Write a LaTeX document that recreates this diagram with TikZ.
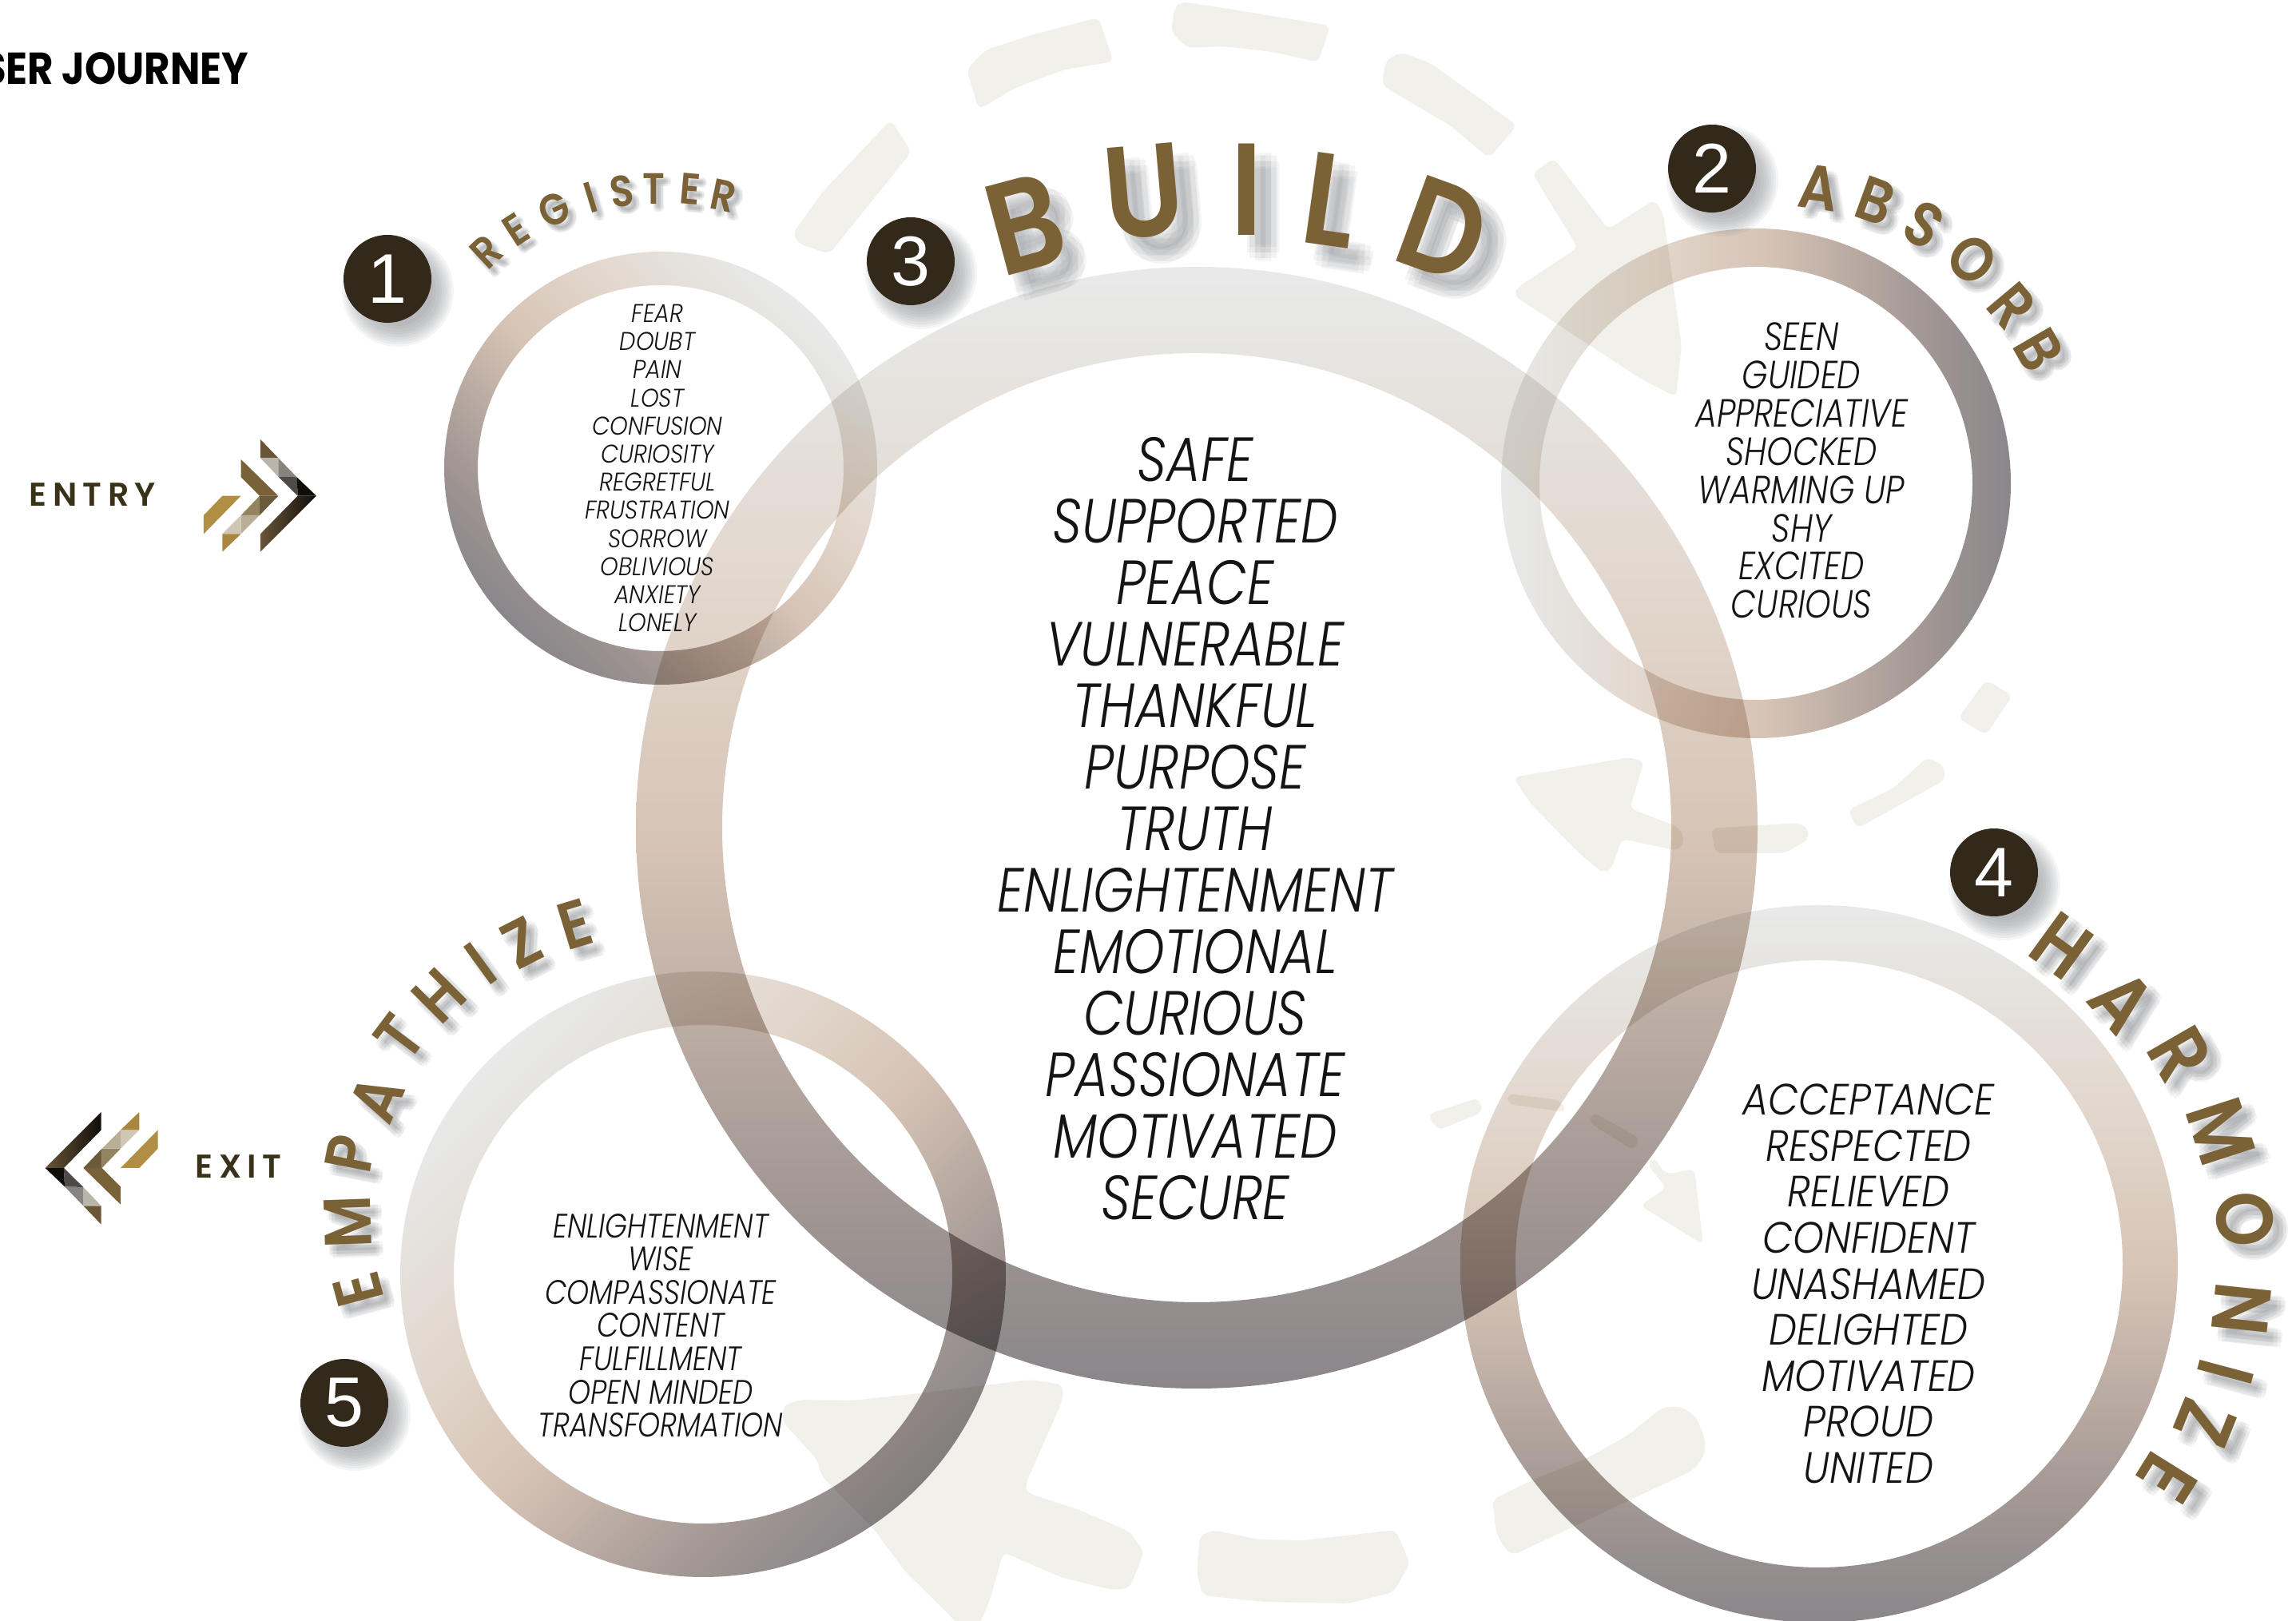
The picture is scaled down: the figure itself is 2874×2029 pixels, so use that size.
\documentclass[tikz,border=0pt]{standalone}
\usepackage{fontspec}
\usetikzlibrary{calc}
\setmainfont{Poppins}
\newfontfamily\headfont{Poppins}[UprightFont=* SemiBold,FakeStretch=0.88]
\newfontfamily\bodyfont{Poppins}[UprightFont=* Light Italic,FakeStretch=0.9]
\newfontfamily\bodyfontN{Poppins}[UprightFont=* Light Italic,FakeStretch=0.84]
\newfontfamily\titlefont{Poppins}[UprightFont=* Bold,FakeStretch=0.89]
\newfontfamily\labelfont{Poppins}[UprightFont=* SemiBold]
\newfontfamily\numfont{Liberation Sans}
\newcommand{\fs}[2]{\fontsize{#1pt}{#2pt}\selectfont}
\definecolor{bgshape}{HTML}{F2F0EA}
\definecolor{brownletter}{HTML}{7A6236}
\definecolor{badge}{HTML}{33291A}
\definecolor{labeldark}{HTML}{3A3218}
\definecolor{shadowgrey}{HTML}{70747A}
\definecolor{ringA}{HTML}{8A868A}
\definecolor{ringB}{HTML}{A39894}
\definecolor{ringC}{HTML}{D6C3B5}
\definecolor{ringD}{HTML}{E2D6CC}
\definecolor{ringE}{HTML}{E8EAE9}
\definecolor{c1}{HTML}{6A5537}\definecolor{c2}{HTML}{BBB4AA}\definecolor{c3}{HTML}{87847F}
\definecolor{c4}{HTML}{4D4B47}\definecolor{c5}{HTML}{100E0B}\definecolor{c6}{HTML}{6B5A3C}
\definecolor{c7}{HTML}{94835F}\definecolor{c8}{HTML}{CFC6B4}\definecolor{c9}{HTML}{B9AE98}
\definecolor{c10}{HTML}{A9873E}\definecolor{c11}{HTML}{B08F45}\definecolor{c12}{HTML}{7A6238}
\pgfdeclareverticalshading{ringgrad}{100bp}{
 color(0bp)=(ringA); color(25bp)=(ringA); color(34bp)=(ringB); color(49bp)=(ringC);
 color(60bp)=(ringD); color(75bp)=(ringE); color(100bp)=(ringE)}
\newcounter{lt}
\newcommand{\ltr}[5]{%
 \stepcounter{lt}%
 \foreach \dx/\dy [count=\i] in {0/0,1/0,-1/0,0/1,0/-1,.7/.7,-.7/.7,.7/-.7,-.7/-.7}{%
  \node[lettershadow,rotate=#3,font=\headfont\fs{#4}{#4}] (ls\thelt x\i)
   at ({#1+0.5*#4+\dx*#4*0.24},{#2+0.55*#4+\dy*#4*0.24}) {#5};}%
 \node[letter,rotate=#3,font=\headfont\fs{#4}{#4}] (lt\thelt) at (#1,#2) {#5};%
}
\newcommand{\badgenum}[3]{% name, position, digit
 \coordinate (#1c) at #2;
 \foreach \rr [count=\i] in {70,67,64,61,58,55,52,48,44}{%
  \fill[shadowgrey,opacity=.075] ($(#1c)+(13,15)$) circle [radius=\rr];}
 \node[badgeball] (#1) at (#1c) {#3};
}
\newcommand{\ring}[6]{% name, x, y, R, r, angle
 \coordinate (#1) at (#2,#3);
 \shade[shading=ringgrad,shading angle=#6,even odd rule,blend mode=multiply]
   (#1) circle [radius=#4] (#1) circle [radius=#5];
}
\newcommand{\chevrons}{%
 \fill[c1] (978,150)--(1045,220)--(978,220)--cycle;
 \fill[c2] (978,220)--(1045,220)--(1045,290)--cycle;
 \fill[c3] (1045,220)--(1115,292)--(1045,290)--cycle;
 \fill[c4] (1045,290)--(1115,292)--(1118,362)--cycle;
 \fill[c5] (1115,292)--(1188,362)--(1118,362)--cycle;
 \shade[left color=c1,right color=c5] (1118,362)--(1188,362)--(978,572)--(978,505)--cycle;
 \fill[c12] (905,225)--(1045,362)--(975,362)--(905,292)--cycle;
 \fill[c6] (975,362)--(1045,362)--(975,435)--cycle;
 \fill[c7] (975,362)--(975,435)--(905,435)--cycle;
 \fill[c9] (905,435)--(975,435)--(905,505)--cycle;
 \fill[c8] (905,435)--(905,505)--(835,505)--cycle;
 \fill[c10] (835,505)--(905,505)--(835,572)--cycle;
 \fill[c11] (835,362)--(905,362)--(765,505)--(765,435)--cycle;
}
\tikzset{
 bgpoly/.style={fill=bgshape,rounded corners=2pt},
 letter/.style={text=brownletter,inner sep=0pt},
 lettershadow/.style={text=shadowgrey,text opacity=.08,inner sep=0pt},
 badgeball/.style={circle,fill=badge,text=white,minimum size=110*.25pt,inner sep=0pt,
   font=\numfont\fs{22}{22}},
 bodytext/.style={align=center,text=black!92,inner sep=0pt},
 sidelabel/.style={text=labeldark,inner sep=0pt,font={\labelfont\addfontfeature{LetterSpace=18}\fs{10.3}{11}}}
}
\begin{document}
\begin{tikzpicture}[x=.25pt,y=-.25pt]
\useasboundingbox (0,0) rectangle (2874,2029);
\clip (0,0) rectangle (2874,2029);
% faint dashed arrow loop
\fill[bgpoly] (1115,150)--(1141,190)--(1038,318)--(1000,305)--(992,293)--(1030,240)--cycle;
\fill[bgpoly] (1375,22)--(1394,77)--(1333,87)--(1271,110)--(1225,137)--(1210,87)--(1233,63)--(1294,43)--cycle;
\fill[bgpoly] (1478,2)--(1531,10)--(1665,32)--(1650,78)--(1593,65)--(1531,58)--(1486,60)--(1466,40)--(1470,10)--cycle;
\fill[bgpoly] (1753,65)--(1792,80)--(1899,157)--(1864,198)--(1815,157)--(1730,107)--(1734,77)--cycle;
\fill[bgpoly] (1918,217)--(1945,198)--(2013,287)--(2071,250)--(2082,267)--(2105,433)--(2098,497)--(2052,473)--(1895,370)--(1899,360)--(1975,310)--cycle;
\fill[bgpoly] (2486,851)--(2519,871)--(2486,920)--(2451,899)--cycle;
\fill[bgpoly] (2412,948)--(2433,958)--(2435,976)--(2325,1037)--(2313,1014)--(2371,986)--cycle;
\fill[bgpoly] (2142,1037)--(2249,1030)--(2262,1035)--(2265,1050)--(2234,1068)--(2147,1068)--cycle;
\fill[bgpoly] (1894,973)--(2040,948)--(2058,953)--(2040,1012)--(2101,1035)--(2109,1050)--(2101,1065)--(2030,1050)--(2017,1088)--(2007,1093)--(1979,1070)--(1917,1007)--cycle;
\fill[bgpoly] (1787,1395)--(1851,1374)--(1856,1392)--(1800,1415)--cycle;
\fill[bgpoly] (1887,1369)--(1953,1377)--(1961,1392)--(1887,1382)--cycle;
\fill[bgpoly] (1994,1392)--(2053,1425)--(2045,1440)--(1989,1405)--cycle;
\fill[bgpoly] (2070,1448)--(2085,1470)--(2121,1463)--(2132,1558)--(2053,1509)--(2086,1487)--(2062,1458)--cycle;
\fill[bgpoly] (1519,1915)--(1575,1927)--(1632,1928)--(1747,1915)--(1765,1957)--(1744,1993)--(1688,2007)--(1582,2005)--(1505,1997)--(1498,1967)--(1502,1922)--cycle;
\fill[bgpoly] (2080,1762)--(2103,1760)--(2123,1773)--(2135,1803)--(2133,1823)--(2120,1840)--(1893,1947)--(1883,1937)--(1873,1920)--(1868,1877)--(1917,1853)--(1987,1825)--(2037,1797)--cycle;
\fill[bgpoly] (1290,1727)--(1330,1733)--(1330,1753)--(1284,1857)--(1284,1868)--(1351,1890)--(1414,1917)--(1432,1943)--(1414,1988)--(1393,1990)--(1330,1975)--(1256,1943)--(1239,2003)--(1225,2035)--(1200,2035)--(1190,2023)--(1133,1967)--(1093,1913)--(1028,1847)--(1023,1827)--(980,1780)--(980,1760)--(1000,1752)--(1067,1753)--(1160,1743)--cycle;
% rings
\ring{ringMain}{1498}{1036}{702}{594}{0}
\ring{ringOne}{827}{586}{271}{229}{-45}
\ring{ringTwo}{2198}{605}{319}{271}{90}
\ring{ringFour}{2277}{1582}{449}{380}{0}
\ring{ringFive}{880}{1595}{379}{312}{45}
% title
\node[anchor=base east,inner sep=0pt,font=\titlefont\fs{14}{14}] (title) at (312,106) {SER JOURNEY};
% entry / exit
\node[sidelabel,anchor=west] (entry) at (36,619) {ENTRY};
\node[sidelabel,anchor=west] (exit) at (244,1460) {EXIT};
\begin{scope}[shift={(0,500)},scale=1/3]\chevrons\end{scope}
\begin{scope}[shift={(0,1340)},scale=1/3,shift={(1358,728)},rotate=180]\chevrons\end{scope}
% badges
\badgenum{one}{(485,349)}{1}
\badgenum{two}{(2143,211)}{2}
\badgenum{three}{(1140,327)}{3}
\badgenum{four}{(2496,1092)}{4}
\badgenum{five}{(431,1756)}{5}
% REGISTER
\ltr{609}{315}{43}{13.7}{R}\ltr{646}{287}{33}{13.7}{E}\ltr{694}{262}{24}{13.7}{G}\ltr{739}{247}{17}{13.7}{I}
\ltr{778}{239}{8}{13.7}{S}\ltr{818}{236}{0}{13.7}{T}\ltr{864}{237}{-5}{13.7}{E}\ltr{906}{245}{-12}{13.7}{R}
% ABSORB
\ltr{2277}{235}{-8}{19.5}{A}\ltr{2348}{251}{-20}{19.5}{B}\ltr{2408}{281}{-30}{19.5}{S}
\ltr{2469}{325}{-40}{19.5}{O}\ltr{2518}{383}{-50}{19.5}{R}\ltr{2552}{438}{-60}{19.5}{B}
% BUILD
\ltr{1283}{280}{15}{41}{B}\ltr{1432}{240}{5}{41}{U}\ltr{1561}{237}{0}{41}{I}\ltr{1665}{250}{-8}{41}{L}\ltr{1807}{287}{-20}{41}{D}
% HARMONIZE
\ltr{2581}{1184}{-36}{25}{H}\ltr{2657}{1253}{-49}{25}{A}\ltr{2729}{1319}{-60}{25}{R}\ltr{2780}{1416}{-72}{25}{M}
\ltr{2810}{1526}{-84}{25}{O}\ltr{2806}{1638}{-96}{25}{N}\ltr{2786}{1717}{-105}{25}{I}\ltr{2760}{1781}{-112}{25}{Z}\ltr{2713}{1850}{-122}{25}{E}
% EMPATHIZE
\ltr{448}{1614}{105}{20.8}{E}\ltr{435}{1530}{92}{20.8}{M}\ltr{438}{1444}{79}{20.8}{P}\ltr{472}{1375}{66}{20.8}{A}
\ltr{500}{1298}{53}{20.8}{T}\ltr{550}{1246}{45}{20.8}{H}\ltr{602}{1206}{36}{20.8}{I}\ltr{653}{1180}{27}{20.8}{Z}\ltr{720}{1157}{17}{20.8}{E}
% word lists
\node[bodytext,font=\bodyfontN\fs{19.5}{19.25}] (listMain) at (1496,1037) {SAFE\\SUPPORTED\\PEACE\\VULNERABLE\\THANKFUL\\PURPOSE\\TRUTH\\ENLIGHTENMENT\\EMOTIONAL\\CURIOUS\\PASSIONATE\\MOTIVATED\\SECURE};
\node[bodytext,font=\bodyfont\fs{8}{8.8}] (listOne) at (823,586) {FEAR\\DOUBT\\PAIN\\LOST\\CONFUSION\\CURIOSITY\\REGRETFUL\\FRUSTRATION\\SORROW\\OBLIVIOUS\\ANXIETY\\LONELY};
\node[bodytext,font=\bodyfontN\fs{12.3}{11.97}] (listTwo) at (2255,589) {SEEN\\GUIDED\\APPRECIATIVE\\SHOCKED\\WARMING UP\\SHY\\EXCITED\\CURIOUS};
\node[bodytext,font=\bodyfont\fs{13.7}{14.4}] (listFour) at (2339,1607) {ACCEPTANCE\\RESPECTED\\RELIEVED\\CONFIDENT\\UNASHAMED\\DELIGHTED\\MOTIVATED\\PROUD\\UNITED};
\node[bodytext,font=\bodyfontN\fs{10.6}{10.4}] (listFive) at (827,1659) {ENLIGHTENMENT\\WISE\\COMPASSIONATE\\CONTENT\\FULFILLMENT\\OPEN MINDED\\TRANSFORMATION};
\end{tikzpicture}
\end{document}
